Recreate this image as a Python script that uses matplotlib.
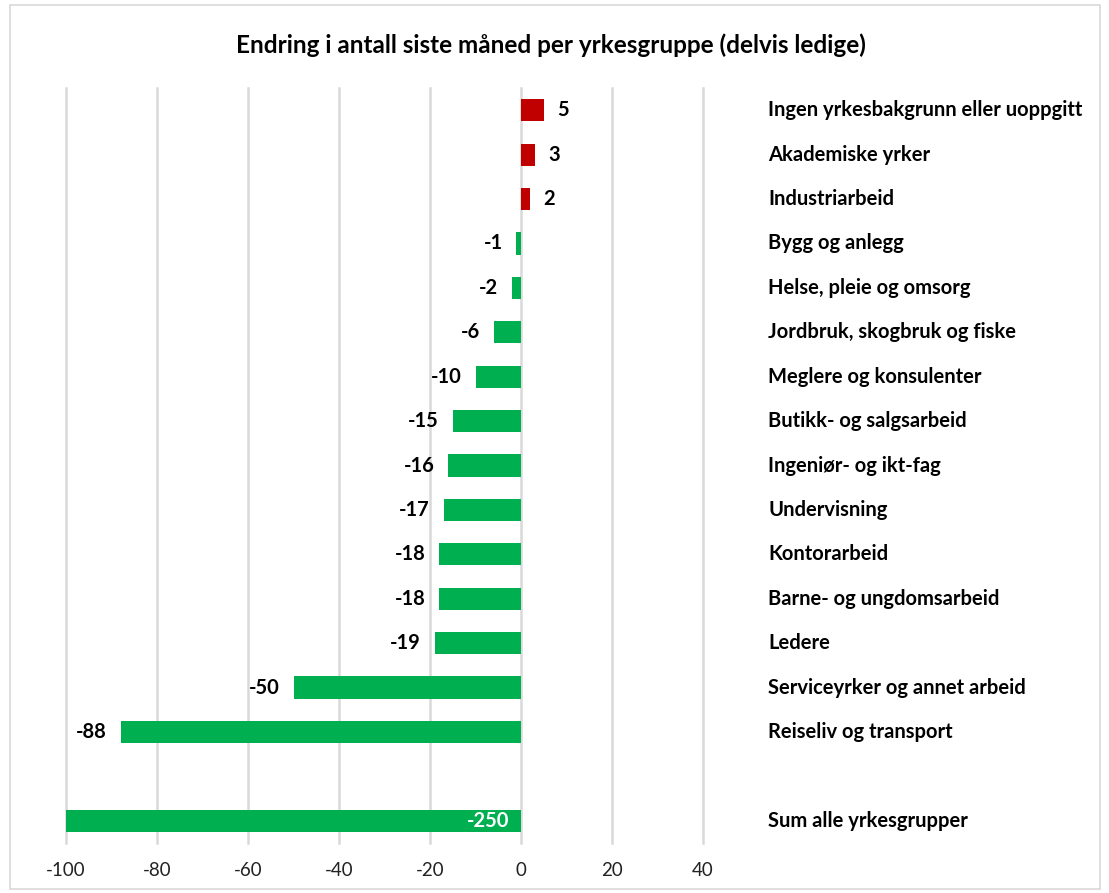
import matplotlib.pyplot as plt
import matplotlib.transforms as mtransforms
from matplotlib.patches import Rectangle

# yrkesgrupper (topp til bunn), tom plass før summen
kategorier = ['Ingen yrkesbakgrunn eller uoppgitt', 'Akademiske yrker', 'Industriarbeid',
              'Bygg og anlegg', 'Helse, pleie og omsorg', 'Jordbruk, skogbruk og fiske',
              'Meglere og konsulenter', 'Butikk- og salgsarbeid', 'Ingeniør- og ikt-fag',
              'Undervisning', 'Kontorarbeid', 'Barne- og ungdomsarbeid', 'Ledere',
              'Serviceyrker og annet arbeid', 'Reiseliv og transport', '',
              'Sum alle yrkesgrupper']
verdier = [5, 3, 2, -1, -2, -6, -10, -15, -16, -17, -18, -18, -19, -50, -88, None, -250]
x_ticks = [-100, -80, -60, -40, -20, 0, 20, 40]

plt.rcParams['font.family'] = ['Lato', 'DejaVu Sans']

fig = plt.figure(figsize=(11.09, 8.93), dpi=100)
ax = fig.add_axes([66 / 1109, 1 - 843 / 893, 637 / 1109, 755 / 893])

pos = [i for i, v in enumerate(verdier) if v is not None]
vals = [verdier[i] for i in pos]
farger = ['#C00000' if v > 0 else '#00B050' for v in vals]
ax.barh(pos, vals, height=0.5, color=farger, zorder=2)

ax.set_xlim(-100, 40)
ax.set_ylim(len(verdier) - 0.5, -0.5)
ax.set_xticks(x_ticks)
ax.set_xticklabels([str(t) for t in x_ticks], fontsize=13.5, color='#222222')
ax.set_yticks([])
ax.tick_params(axis='x', length=0, pad=14)
ax.grid(axis='x', color='#D9D9D9', linewidth=1.8, zorder=0)
for gl in ax.get_xgridlines():
    gl.set_clip_on(False)
for s in ax.spines.values():
    s.set_visible(False)

# verdietiketter
for p, v in zip(pos, vals):
    if v < -100:
        ax.text(-2.5, p, str(v), ha='right', va='center', color='white',
                fontsize=14.5, fontweight='bold', zorder=3)
    elif v > 0:
        ax.text(v + 3, p, str(v), ha='left', va='center', color='black',
                fontsize=14.5, fontweight='bold')
    else:
        ax.text(v - 3, p, str(v), ha='right', va='center', color='black',
                fontsize=14.5, fontweight='bold')

# kategorinavn til høyre
trans = mtransforms.blended_transform_factory(fig.transFigure, ax.transData)
for i, k in enumerate(kategorier):
    if k:
        ax.text(768 / 1109, i, k, transform=trans, ha='left', va='center',
                fontsize=14.5, fontweight='bold', color='black', clip_on=False)

fig.text(551 / 1109, 1 - 45 / 893, 'Endring i antall siste måned per yrkesgruppe (delvis ledige)',
         ha='center', va='center', fontsize=17.5, fontweight='bold')

fig.patches.append(Rectangle((10 / 1109, 4 / 893), 1090 / 1109, 884 / 893,
                             transform=fig.transFigure, fill=False,
                             edgecolor='#D9D9D9', linewidth=1.2))

fig.savefig('out.png', dpi=100)
